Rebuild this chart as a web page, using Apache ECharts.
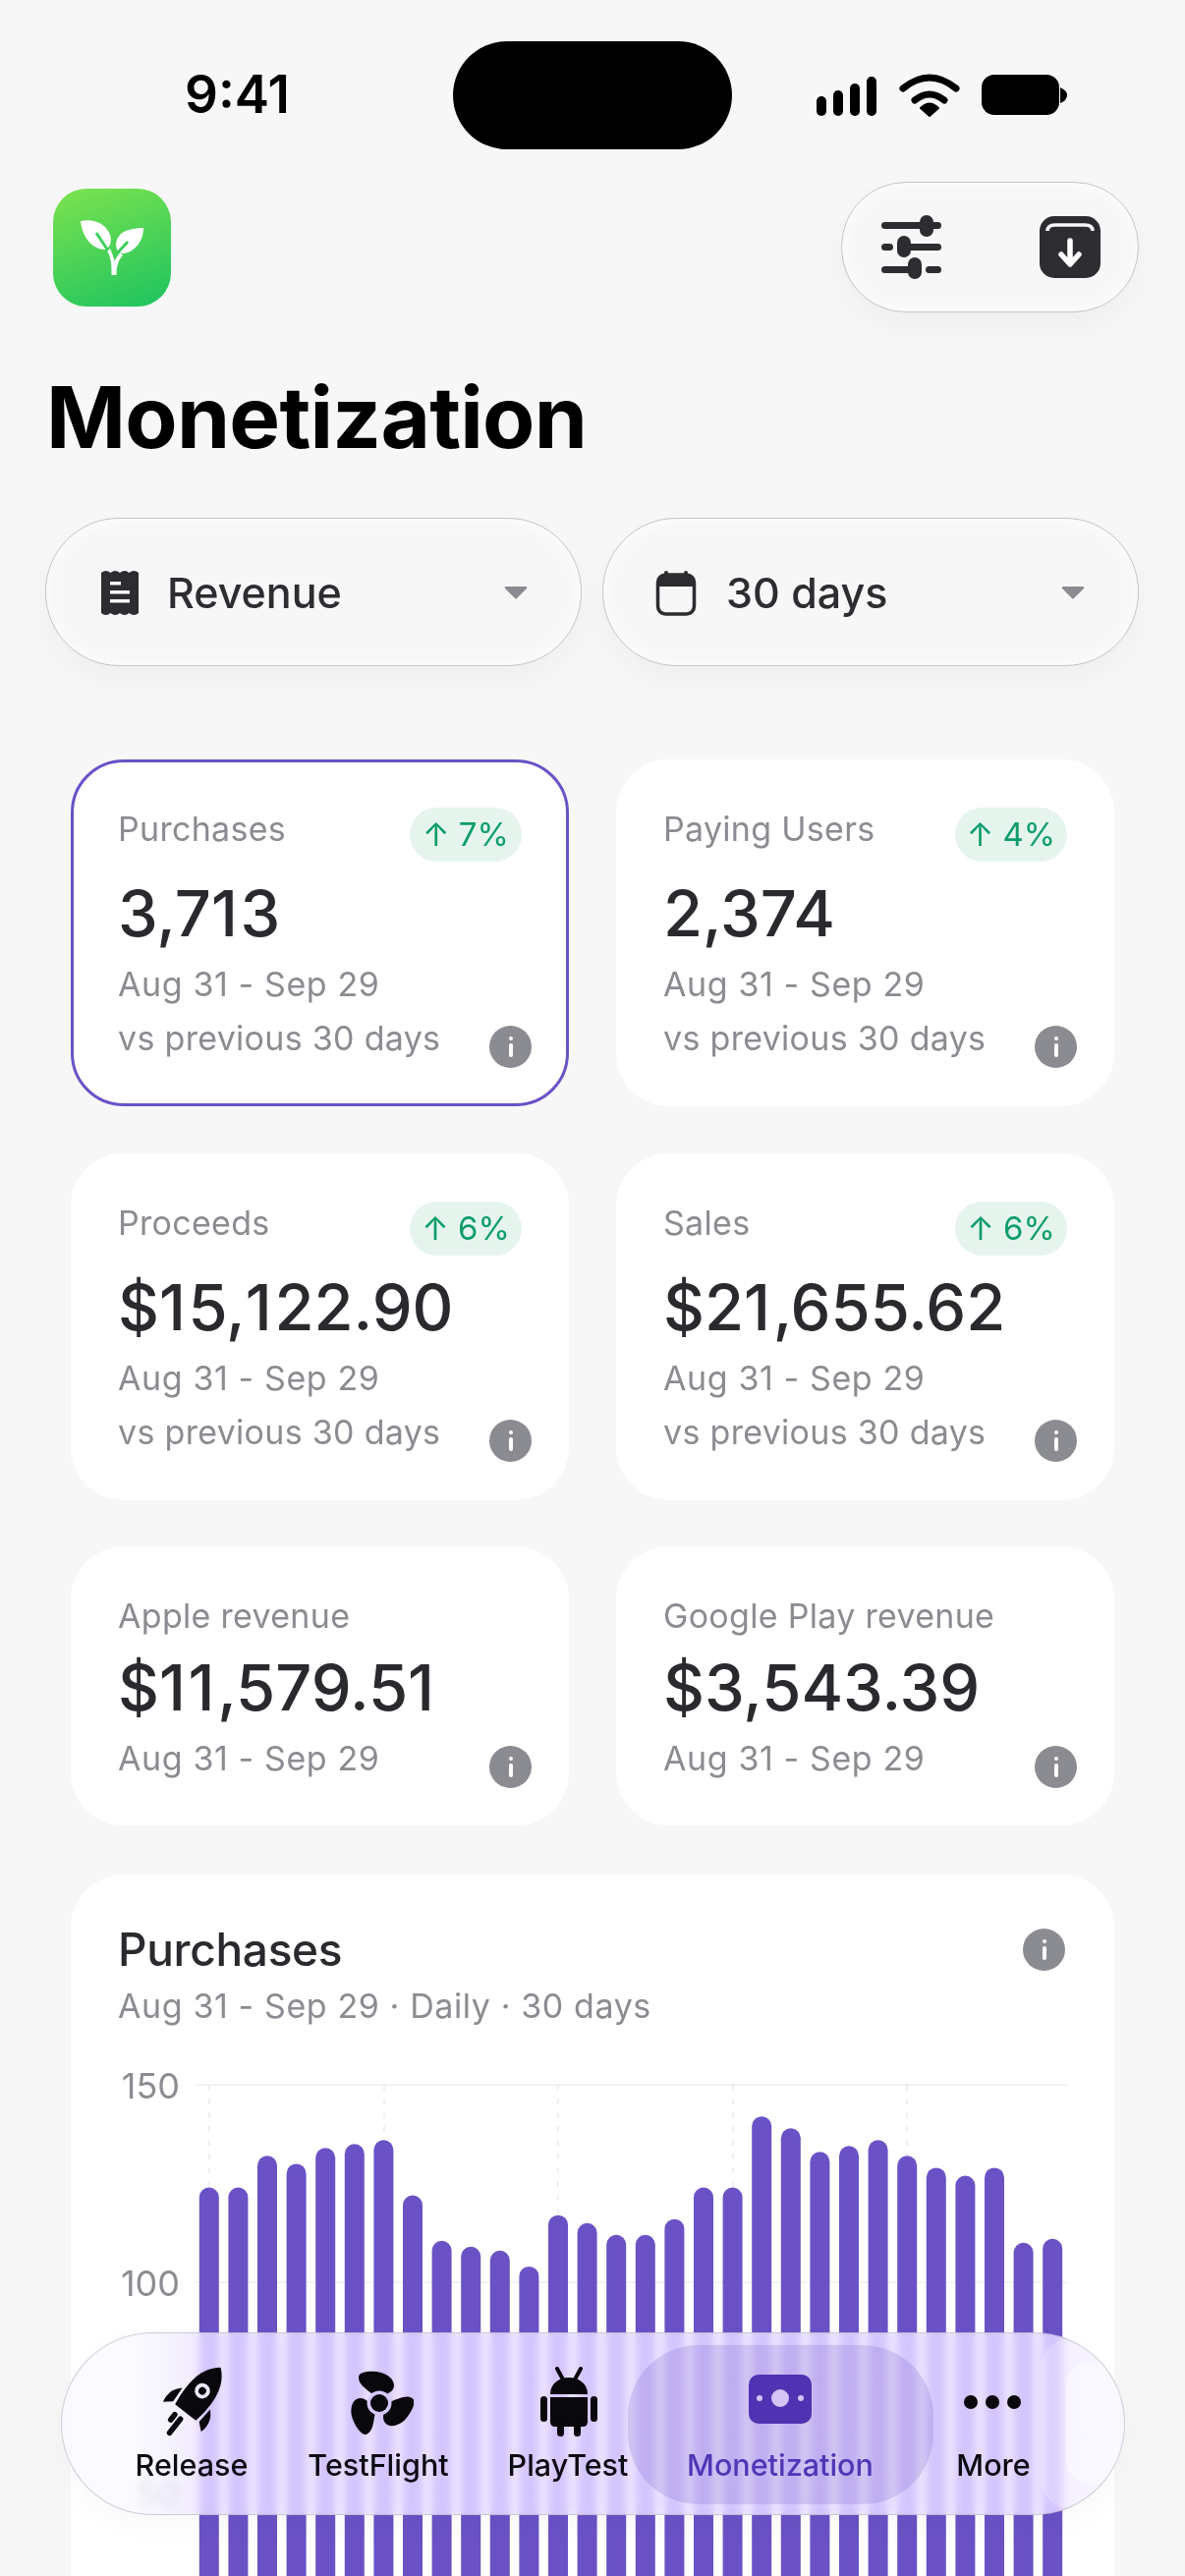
<!DOCTYPE html>
<html>
<head>
<meta charset="utf-8">
<title>Monetization</title>
<script src="https://cdn.jsdelivr.net/npm/echarts@6/dist/echarts.min.js"></script>
<style>
  html, body { margin: 0; width: 1206px; height: 2622px; overflow: hidden; background: #f7f7f7; font-family: Inter, sans-serif; }
  #page { position: relative; width: 1206px; height: 2622px; overflow: hidden; }
  .abs { position: absolute; }
  .t { position: absolute; white-space: nowrap; transform: translateY(-50%); line-height: 1.2; }
  .glass { position: absolute; box-sizing: border-box; background: #f7f7f7; border: 1.5px solid #c6c6c6; box-shadow: 0 14px 30px rgba(0,0,0,.035), inset 0 0 18px rgba(255,255,255,.9); }
  .card { position: absolute; box-sizing: border-box; background: #fff; border-radius: 54px; }
  .grey { color: #8b8c91; font-size: 34px; letter-spacing: .3px; }
  .wide { letter-spacing: .6px; }
  .value { color: #2a2a2e; font-size: 65px; font-weight: 500; }
  .value span { letter-spacing: 2.6px; }
  .badge { position: absolute; width: 114px; height: 55px; border-radius: 28px; background: #e5f5ee; color: #0f9d6b; font-size: 33px; line-height: 55px; text-align: center; }
  .info { position: absolute; width: 43px; height: 43px; border-radius: 50%; background: #8b8c91; }
  .info::before { content: ""; position: absolute; left: 19.5px; top: 11px; width: 4px; height: 4px; border-radius: 50%; background: #fff; }
  .info::after { content: ""; position: absolute; left: 19.5px; top: 18px; width: 4px; height: 14px; border-radius: 2px; background: #fff; }
  #chart { position: absolute; left: 100px; top: 2090px; width: 1020px; height: 760px; }
  #tabbar { position: absolute; left: 62px; top: 2374px; width: 1083px; height: 186px; box-sizing: border-box; border-radius: 93px; border: 1.5px solid rgba(180,175,190,.6); background: linear-gradient(90deg, rgba(250,249,255,.8) 0, rgba(250,249,255,.8) 7%, rgba(236,227,255,.8) 14%, rgba(236,227,255,.8) 93%, rgba(246,243,255,.8) 100%); -webkit-backdrop-filter: blur(4px) saturate(1.5); backdrop-filter: blur(4px) saturate(1.5); box-shadow: 0 10px 30px rgba(0,0,0,.03); overflow: hidden; }
  #tabbar .sel { position: absolute; left: 576px; top: 12px; width: 311px; height: 162px; border-radius: 72px; background: rgba(110,85,190,.2); }
  #tabbar .lens { position: absolute; left: 997px; top: 6px; width: 90px; height: 172px; border-radius: 40px 90px 90px 40px; background: rgba(255,255,255,.22); }
  #tabbar .lens2 { position: absolute; left: 1021px; top: 28px; width: 56px; height: 126px; border-radius: 28px; background: rgba(255,255,255,.4); }
  .tab { position: absolute; white-space: nowrap; transform: translate(-50%,-50%); font-size: 30.5px; font-weight: 500; color: #0b0b12; top: 132.5px; }
</style>
</head>
<body>
<div id="page">
  <div class="t" style="left:188px;top:97px;font-size:53px;font-weight:600;color:#000">9:41</div>
  <div class="abs" style="left:461px;top:42px;width:284px;height:110px;border-radius:55px;background:#000"></div>
  <svg class="abs" style="left:825px;top:70px" width="270" height="55" viewBox="0 0 270 55">
    <rect x="6" y="28" width="10" height="20" rx="5"/><rect x="23" y="22" width="10" height="26" rx="5"/><rect x="40" y="15" width="10" height="33" rx="5"/><rect x="57" y="8" width="10" height="40" rx="5"/>
    <path d="M94 20 Q121 -2 148 20" fill="none" stroke="#000" stroke-width="7" stroke-linecap="round"/>
    <path d="M106 32 Q121 20 136 32" fill="none" stroke="#000" stroke-width="7" stroke-linecap="round"/>
    <path d="M121 48 L112 40 Q121 31 130 40Z" stroke="#000" stroke-width="2" stroke-linejoin="round"/>
    <rect x="174" y="6" width="79" height="41" rx="13"/><path d="M254 19 Q261 22 261 27 Q261 32 254 35Z"/>
  </svg>

  <div class="abs" style="left:54px;top:192px;width:120px;height:120px;border-radius:34px;background:linear-gradient(160deg,#7de34f,#1cc35f)"></div>
  <svg class="abs" style="left:54px;top:192px" width="120" height="120" viewBox="0 0 120 120" fill="#fff">
    <path d="M28 33 C40 30 54 35 58 47 C60 54 58 60 53 62 C40 62 30 50 28 33Z"/>
    <path d="M92 40 C92 54 82 66 70 66 C63 64 62 54 68 47 C73 42 82 40 92 40Z"/>
    <path d="M55 63 C60 72 59.5 80 59.5 88 L64.5 88 C64.5 80 66 73 71 68 L68 65 C65.5 69 63.5 71 62.5 74 C62 70 60 66 58 61Z"/>
    <path d="M44 45 L56 63" fill="none" stroke="#3ed05a" stroke-width="3"/>
    <path d="M76 54 L66 65" fill="none" stroke="#3ed05a" stroke-width="3"/>
  </svg>

  <div class="glass" style="left:856px;top:185px;width:303px;height:133px;border-radius:66px"></div>
  <svg class="abs" style="left:890px;top:212px" width="240" height="76" viewBox="0 0 240 76" fill="#2c2c31">
    <rect x="7" y="14" width="46" height="7" rx="3.5"/><rect x="46" y="7" width="14" height="22" rx="7"/><rect x="56" y="14" width="12" height="7" rx="3.5"/>
    <rect x="7" y="36" width="12" height="7" rx="3.5"/><rect x="23" y="28" width="14" height="22" rx="7"/><rect x="30" y="36" width="38" height="7" rx="3.5"/>
    <rect x="7" y="59" width="34" height="7" rx="3.5"/><rect x="34" y="50" width="14" height="22" rx="7"/><rect x="52" y="59" width="16" height="7" rx="3.5"/>
    <rect x="168" y="8" width="62" height="63" rx="15"/>
    <path d="M176 23 Q176 17 184 17 L214 17 Q222 17 222 23" fill="none" stroke="#f8f8f8" stroke-width="3.5"/>
    <path d="M199 33 L199 56 M190 47 L199 57 L208 47" fill="none" stroke="#fff" stroke-width="5.5" stroke-linecap="round" stroke-linejoin="round"/>
  </svg>

  <div class="t" style="left:47px;top:425px;font-size:87px;font-weight:700;color:#000;letter-spacing:-.75px">Monetization</div>

  <div class="glass" style="left:46px;top:527px;width:546px;height:151px;border-radius:75px"></div>
  <div class="glass" style="left:613px;top:527px;width:546px;height:151px;border-radius:75px"></div>
  <svg class="abs" style="left:100px;top:578px" width="44" height="51" viewBox="0 0 44 51" fill="#2c2c31">
    <path d="M3 5 Q7.75 1 12.5 5 Q17.25 1 22 5 Q26.75 1 31.5 5 Q36.25 1 41 5 L41 46 Q36.25 50 31.5 46 Q26.75 50 22 46 Q17.25 50 12.5 46 Q7.75 50 3 46Z"/>
    <rect x="12" y="14" width="11" height="3.5" fill="#f8f8f8"/><rect x="12" y="23" width="20" height="3.5" fill="#f8f8f8"/><rect x="12" y="32" width="20" height="3.5" fill="#f8f8f8"/>
  </svg>
  <div class="t" style="left:170px;top:604px;font-size:43px;font-weight:500;color:#2c2c31">Revenue</div>
  <svg class="abs" style="left:512px;top:596px" width="26" height="15" viewBox="0 0 26 15" fill="#8b8c91"><path d="M3 1 L23 1 Q25 1 24 3 L14 13 Q13 14 12 13 L2 3 Q1 1 3 1Z"/></svg>
  <svg class="abs" style="left:664px;top:578px" width="48" height="50" viewBox="0 0 48 50" fill="#2c2c31">
    <rect x="5.5" y="7" width="37" height="40" rx="8" fill="none" stroke="#2c2c31" stroke-width="3.5"/>
    <path d="M6 19 L6 13 Q6 7 13 7 L35 7 Q42 7 42 13 L42 19Z"/><rect x="12" y="3" width="4" height="9" rx="2"/><rect x="32" y="3" width="4" height="9" rx="2"/>
  </svg>
  <div class="t" style="left:739px;top:604px;font-size:43px;font-weight:500;color:#2c2c31">30 days</div>
  <svg class="abs" style="left:1079px;top:596px" width="26" height="15" viewBox="0 0 26 15" fill="#8b8c91"><path d="M3 1 L23 1 Q25 1 24 3 L14 13 Q13 14 12 13 L2 3 Q1 1 3 1Z"/></svg>

  <div id="cards"></div>

  <div class="card" style="left:72px;top:1908px;width:1062px;height:900px"></div>
  <div class="t" style="left:120px;top:1985px;font-size:46px;font-weight:500;color:#2a2a2e;letter-spacing:-.3px">Purchases</div>
  <div class="t grey wide" style="left:120px;top:2042px">Aug 31 - Sep 29 · Daily · 30 days</div>
  <div class="info" style="left:1041px;top:1963px"></div>
  <div id="chart"></div>

  <div id="tabbar">
    <div class="lens"></div><div class="lens2"></div>
    <div class="sel"></div>
    <svg class="abs" style="left:97px;top:32px" width="74" height="76" viewBox="-33 -34 66 68" fill="#08080d">
      <g transform="rotate(38)">
        <path d="M0 -40 C13 -30 16 -12 12 12 L-12 12 C-16 -12 -13 -30 0 -40Z"/>
        <circle cx="0" cy="-13" r="7" fill="#eee8fe"/><circle cx="0" cy="-13" r="3.5"/>
        <path d="M-16 -4 C-23 2 -24 10 -22 17 L-15 11Z"/><path d="M16 -4 C23 2 24 10 22 17 L15 11Z"/>
        <rect x="-9" y="17" width="5" height="11" rx="2.5"/><rect x="-2.5" y="17" width="5" height="21" rx="2.5"/>
      </g>
    </svg>
    <svg class="abs" style="left:288px;top:36px" width="70" height="70" viewBox="-35 -35 70 70" fill="#08080d">
      <path d="M-7 -9 C-14 -15 -22 -20 -21 -27 C-20 -33 -6 -33 2 -31 C9 -29 15 -24 15 -18 C15 -10 3 -6 -7 -9Z"/>
      <path transform="rotate(120)" d="M-7 -9 C-14 -15 -22 -20 -21 -27 C-20 -33 -6 -33 2 -31 C9 -29 15 -24 15 -18 C15 -10 3 -6 -7 -9Z"/>
      <path transform="rotate(240)" d="M-7 -9 C-14 -15 -22 -20 -21 -27 C-20 -33 -6 -33 2 -31 C9 -29 15 -24 15 -18 C15 -10 3 -6 -7 -9Z"/>
      <circle r="12.5" fill="#d6c8fc"/><circle r="9"/>
    </svg>
    <svg class="abs" style="left:486px;top:34px" width="60" height="72" viewBox="0 0 60 72" fill="#08080d">
      <path d="M11 28 C11 17 20 11 30 11 C40 11 49 17 49 28Z"/>
      <path d="M18 2 L24 13 M42 2 L36 13" stroke="#08080d" stroke-width="4" stroke-linecap="round"/>
      <path d="M11 31 L49 31 L49 56 Q49 61 44 61 L16 61 Q11 61 11 56Z"/>
      <rect x="1" y="30" width="7" height="26" rx="3.5"/><rect x="52" y="30" width="7" height="26" rx="3.5"/>
      <rect x="18" y="55" width="7" height="16" rx="3.5"/><rect x="35" y="55" width="7" height="16" rx="3.5"/>
    </svg>
    <svg class="abs" style="left:698px;top:41px" width="66" height="52" viewBox="0 0 66 52">
      <rect x="1" y="1" width="64" height="50" rx="10" fill="#4f33b3"/>
      <circle cx="33" cy="25" r="9" fill="#d3c4f5"/><circle cx="12" cy="25" r="3" fill="#d3c4f5"/><circle cx="54" cy="25" r="3" fill="#d3c4f5"/>
    </svg>
    <svg class="abs" style="left:916px;top:60px" width="62" height="20" viewBox="0 0 62 20" fill="#08080d">
      <circle cx="9" cy="10" r="7"/><circle cx="31" cy="10" r="7"/><circle cx="53" cy="10" r="7"/>
    </svg>
    <div id="tabs"></div>
  </div>
</div>

<script>
  // chart data
  const dayLabels = ["Aug 31", "Sep 1", "Sep 2", "Sep 3", "Sep 4", "Sep 5", "Sep 6", "Sep 7", "Sep 8", "Sep 9", "Sep 10", "Sep 11", "Sep 12", "Sep 13", "Sep 14", "Sep 15", "Sep 16", "Sep 17", "Sep 18", "Sep 19", "Sep 20", "Sep 21", "Sep 22", "Sep 23", "Sep 24", "Sep 25", "Sep 26", "Sep 27", "Sep 28", "Sep 29"];
  const purchases = [124, 124, 132, 130, 134, 135, 136, 122, 110.5, 109, 108, 104, 117, 115, 112, 112, 116, 124, 124, 142, 139, 133, 134.5, 136, 132, 129, 127, 129, 110, 111];

  // metric cards
  const cardTitles = ["Purchases", "Paying Users", "Proceeds", "Sales", "Apple revenue", "Google Play revenue"];
  const cardValues = ["3,713", "2,374", "$15,122.90", "$21,655.62", "$11,579.51", "$3,543.39"];
  const cardBadges = ["↑ 7%", "↑ 4%", "↑ 6%", "↑ 6%", "", ""];
  const cardRange = "Aug 31 - Sep 29";
  const cardCompare = "vs previous 30 days";

  const tabNames = ["Release", "TestFlight", "PlayTest", "Monetization", "More"];

  // build the cards
  const rowTops = [773, 1174, 1574];
  const colLefts = [72, 627];
  let cardsHtml = "";
  cardTitles.forEach((title, i) => {
    const x = colLefts[i % 2];
    const y = rowTops[Math.floor(i / 2)];
    const small = !cardBadges[i];
    const border = i === 0 ? "border:3.5px solid #6a52c6;" : "";
    // the reference's "1" is wider than Inter's
    const valueHtml = cardValues[i].replace(/1/g, "<span>1</span>");
    cardsHtml += `<div class="card" style="left:${x}px;top:${y}px;width:507px;height:${small ? 284 : 353}px;${border}"></div>`;
    cardsHtml += `<div class="t grey" style="left:${x + 48}px;top:${y + 71}px">${title}</div>`;
    cardsHtml += `<div class="t value" style="left:${x + 48}px;top:${y + (small ? 144 : 157)}px">${valueHtml}</div>`;
    cardsHtml += `<div class="t grey wide" style="left:${x + 48}px;top:${y + (small ? 216 : 229)}px">${cardRange}</div>`;
    if (!small) {
      cardsHtml += `<div class="t grey" style="left:${x + 48}px;top:${y + 284}px">${cardCompare}</div>`;
      cardsHtml += `<div class="badge" style="left:${x + 345}px;top:${y + 49}px">${cardBadges[i]}</div>`;
    }
    cardsHtml += `<div class="info" style="left:${x + 426}px;top:${y + (small ? 203 : 271)}px"></div>`;
  });
  document.getElementById("cards").innerHTML = cardsHtml;

  // tab labels
  const tabCenters = [132, 322, 515, 731, 948];
  document.getElementById("tabs").innerHTML = tabNames.map((name, i) =>
    `<div class="tab" style="left:${tabCenters[i]}px;${i === 3 ? "color:#4f36b6" : ""}">${name}</div>`
  ).join("");

  // use echarts
  const myChart = echarts.init(document.getElementById("chart"));

  let option = {
    animation: false,
    grid: { left: 98, right: 34, top: 32, bottom: 125 },
    xAxis: {
      type: "category",
      data: dayLabels,
      axisLine: { show: false },
      axisTick: { show: false },
      axisLabel: { show: false },
      // dashed guide every six days
      splitLine: {
        show: true,
        alignWithLabel: true,
        interval: 5,
        lineStyle: { color: "#ececee", type: [6, 8], width: 1.5 }
      }
    },
    yAxis: {
      type: "value",
      min: 0,
      max: 150,
      interval: 50,
      axisLine: { show: false },
      axisTick: { show: false },
      axisLabel: {
        color: "#8b8c91",
        fontFamily: "Inter",
        fontSize: 36,
        margin: 15,
        padding: [7, 0, 0, 0],
        // 0 is below the fold, 50 sits lower because the glass bar bends it
        showMinLabel: false,
        formatter: value => (value === 50 ? "{lens|50}" : String(value)),
        rich: {
          lens: { color: "#8b8c91", fontFamily: "Inter", fontSize: 36, padding: [26, 0, 0, 0] }
        }
      },
      splitLine: { lineStyle: { color: "#efeff1", width: 1.5 } }
    },
    series: [{
      name: "Purchases",
      type: "bar",
      data: purchases,
      barWidth: 20,
      itemStyle: { color: "#6a52c6", borderRadius: [10, 10, 0, 0] }
    }]
  };

  myChart.setOption(option);
</script>
</body>
</html>
